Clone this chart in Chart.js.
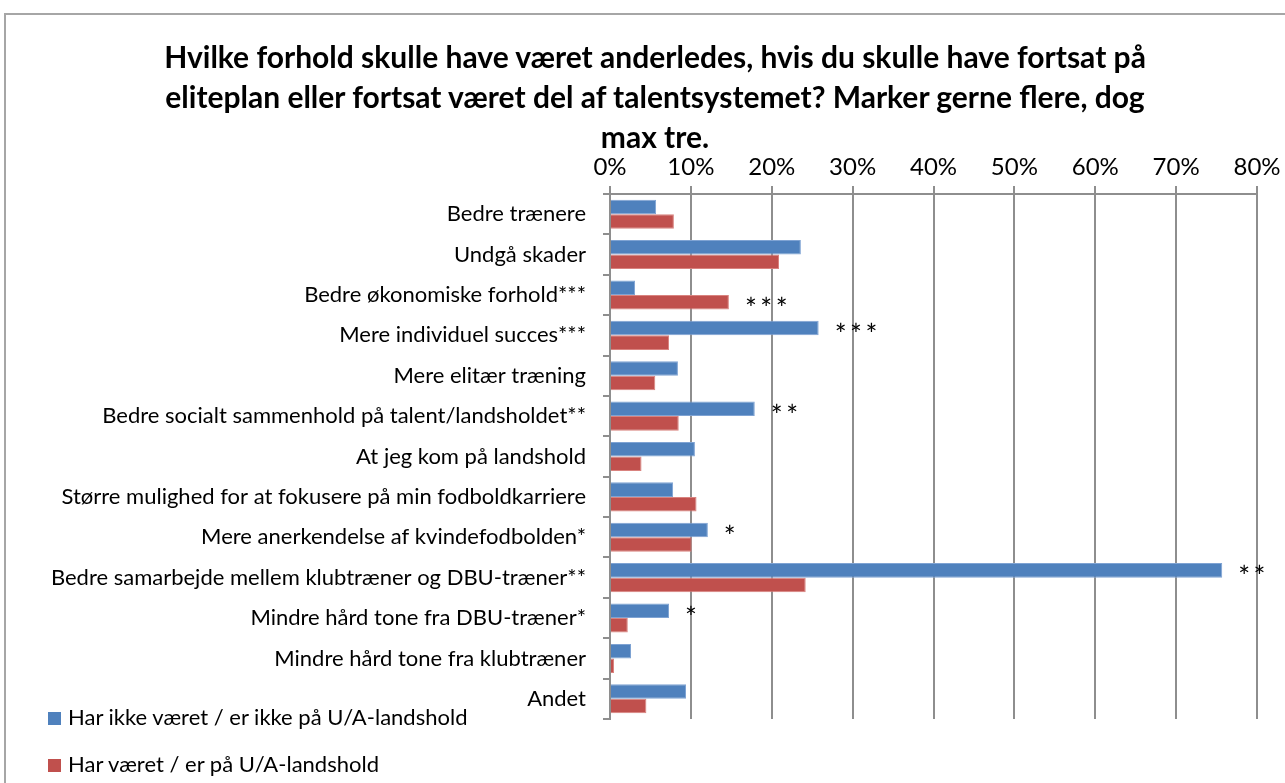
<!DOCTYPE html>
<html><head><meta charset="utf-8">
<script src="https://cdn.jsdelivr.net/npm/chart.js@4.4.1/dist/chart.umd.min.js"></script>
<style>
html,body{margin:0;padding:0;background:#fff;overflow:hidden;}
#wrap{position:relative;width:1285px;height:783px;}
#frame{position:absolute;left:4px;top:13px;width:1300px;height:800px;border:2px solid #a6a6a6;box-sizing:border-box;}
#title{position:absolute;left:0;top:36px;width:1310px;text-align:center;font-family:Lato,sans-serif;font-weight:bold;font-size:30px;line-height:40px;color:#000;}
.leg{position:absolute;left:48px;font-family:Lato,sans-serif;font-size:22px;color:#000;white-space:nowrap;}
.leg span{display:inline-block;width:13px;height:13px;margin-right:7px;vertical-align:0px;}
canvas{position:absolute;left:0;top:0;}
</style></head>
<body><div id="wrap">
<div id="frame"></div>
<canvas id="c" width="1285" height="783"></canvas>
<div id="title">Hvilke forhold skulle have været anderledes, hvis du skulle have fortsat på<br>eliteplan eller fortsat været del af talentsystemet? Marker gerne flere, dog<br>max tre.</div>
<div class="leg" id="leg0" style="top:703px"></div>
<div class="leg" id="leg1" style="top:750px"></div>
</div>
<script>
const categories = [
  "Bedre trænere",
  "Undgå skader",
  "Bedre økonomiske forhold***",
  "Mere individuel succes***",
  "Mere elitær træning",
  "Bedre socialt sammenhold på talent/landsholdet**",
  "At jeg kom på landshold",
  "Større mulighed for at fokusere på min fodboldkarriere",
  "Mere anerkendelse af kvindefodbolden*",
  "Bedre samarbejde mellem klubtræner og DBU-træner**",
  "Mindre hård tone fra DBU-træner*",
  "Mindre hård tone fra klubtræner",
  "Andet"
];
const seriesNames = ["Har ikke været / er ikke på U/A-landshold", "Har været / er på U/A-landshold"];
const notNational = [5.7, 23.6, 3.1, 25.8, 8.4, 17.9, 10.5, 7.8, 12.1, 75.7, 7.3, 2.6, 9.4];
const national    = [7.9, 20.9, 14.7, 7.3, 5.6, 8.5, 3.9, 10.7, 10.1, 24.2, 2.2, 0.5, 4.5];
const sigMarks    = ["", "", "***", "***", "", "**", "", "", "*", "**", "*", "", ""];
const sigSeries   = [0, 0, 1, 0, 0, 0, 0, 0, 0, 0, 0, 0, 0];
const xTicks      = [0, 10, 20, 30, 40, 50, 60, 70, 80];

const colors = ["#4F81BD", "#C0504D"];
const borders = ["#7FA3D3", "#D9837F"];
const FONT = "Lato, sans-serif";

document.getElementById('leg0').innerHTML = '<span style="background:'+colors[0]+'"></span>' + seriesNames[0];
document.getElementById('leg1').innerHTML = '<span style="background:'+colors[1]+'"></span>' + seriesNames[1];

const sigPlugin = {
  id: 'sig',
  afterDatasetsDraw(chart) {
    const ctx = chart.ctx;
    ctx.save();
    ctx.font = "28px " + FONT;
    ctx.fillStyle = "#000";
    ctx.textAlign = "left";
    ctx.textBaseline = "middle";
    sigMarks.forEach((m, i) => {
      if (!m) return;
      const meta = chart.getDatasetMeta(sigSeries[i]);
      const bar = meta.data[i];
      const txt = m.split('').join('\u2009');
      ctx.fillText(txt, bar.x + 16, bar.y + 8);
    });
    ctx.restore();
  }
};

new Chart(document.getElementById('c'), {
  type: 'bar',
  data: {
    labels: categories,
    datasets: [
      { label: seriesNames[0], data: notNational, backgroundColor: colors[0], borderColor: borders[0], borderWidth: 1, borderSkipped: 'start' },
      { label: seriesNames[1], data: national, backgroundColor: colors[1], borderColor: borders[1], borderWidth: 1, borderSkipped: 'start' }
    ]
  },
  options: {
    indexAxis: 'y',
    responsive: false,
    animation: false,
    layout: { padding: { left: 0, right: 28, top: 140, bottom: 64 } },
    datasets: { bar: { categoryPercentage: 0.72, barPercentage: 1.0 } },
    plugins: { legend: { display: false }, title: { display: false }, tooltip: { enabled: false } },
    scales: {
      x: {
        position: 'top',
        min: 0, max: 80,
        afterBuildTicks(s) { s.ticks = xTicks.map(v => ({ value: v })); },
        afterFit(s) { s.height = 54; },
        ticks: { callback: v => v + '%', font: { family: FONT, size: 24 }, color: '#000', padding: 4, maxRotation: 0 },
        grid: { color: '#8e8e8e', lineWidth: 2, tickLength: 8, drawTicks: true },
        border: { color: '#8e8e8e', width: 2 }
      },
      y: {
        afterFit(s) { s.width = 610; },
        ticks: { font: { family: FONT, size: 22 }, color: '#000', padding: 17, autoSkip: false },
        grid: { offset: true, drawOnChartArea: false, color: '#8e8e8e', lineWidth: 2, tickLength: 7 },
        border: { color: '#8e8e8e', width: 2 }
      }
    }
  },
  plugins: [sigPlugin]
});
</script>
</body></html>
